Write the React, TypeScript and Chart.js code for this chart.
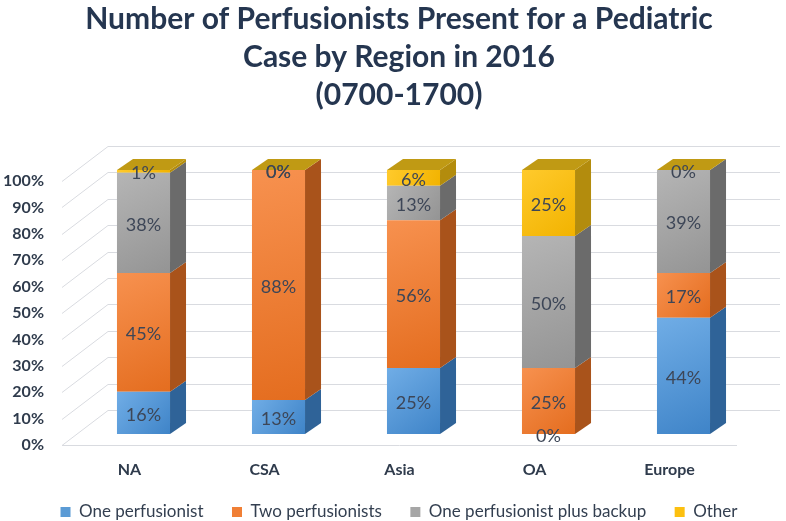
import { useEffect, useRef } from 'react';
import { Chart, registerables } from 'chart.js';

Chart.register(...registerables);

const titleLines = ['Number of Perfusionists Present for a Pediatric', 'Case by Region in 2016', '(0700-1700)'];
const categories = ['NA', 'CSA', 'Asia', 'OA', 'Europe'];
const seriesNames = ['One perfusionist', 'Two perfusionists', 'One perfusionist plus backup', 'Other'];
const onePerfusionist = [16, 13, 25, 0, 44];
const twoPerfusionists = [45, 88, 56, 25, 17];
const onePlusBackup = [38, 0, 13, 50, 39];
const other = [1, 0, 6, 25, 0];
const yTicks = [0, 10, 20, 30, 40, 50, 60, 70, 80, 90, 100];

const frontColors = ['#5b9bd5', '#f07f35', '#a6a6a6', '#fcc010'];
const frontLight = ['#70ade6', '#f7914f', '#b5b5b5', '#ffca2c'];
const frontDark = ['#3f84c8', '#e46d1f', '#949494', '#f2b300'];
const sideColors = ['#2f6398', '#a9531b', '#6b6b6b', '#b38c0d'];
const topColor = '#c09a14';

const DX = 16;
const DY = 11;
const BAR_FRACTION = 0.393;
const FONT = 'Lato, "Open Sans", sans-serif';

const series = [onePerfusionist, twoPerfusionists, onePlusBackup, other];
const totals = categories.map((_, j) => series.reduce((s, arr) => s + arr[j], 0));
const normalized = series.map((arr) => arr.map((v, j) => (v / totals[j]) * 100));

const frontFill = (i: number) => (c: any) => {
  const chart = c.chart;
  const xs = chart.scales?.x;
  const ys = chart.scales?.y;
  const j = c.dataIndex;
  if (!chart.chartArea || !xs || !ys || j === undefined) return frontColors[i];
  let start = 0;
  for (let k = 0; k < i; k++) start += normalized[k][j];
  const end = start + normalized[i][j];
  const yTop = ys.getPixelForValue(end);
  const yBot = ys.getPixelForValue(start);
  const cx = xs.getPixelForValue(j);
  const half = ((xs.right - xs.left) / categories.length) * BAR_FRACTION / 2;
  if (!isFinite(yTop) || !isFinite(cx) || yBot - yTop < 0.5) return frontColors[i];
  const g = chart.ctx.createLinearGradient(cx - half, yTop, cx + half, yBot);
  g.addColorStop(0, frontLight[i]);
  g.addColorStop(1, frontDark[i]);
  return g;
};

const wallPlugin = {
  id: 'walls3d',
  beforeDatasetsDraw(chart: any) {
    const { ctx, chartArea: a, scales } = chart;
    const y = scales.y;
    const fl = a.left - 14;
    const bl = a.left + 32;
    const br = a.right + 29;
    const fr = a.right - 14;
    ctx.save();
    ctx.strokeStyle = '#d9dbe0';
    ctx.lineWidth = 1;
    for (const v of yTicks) {
      const py = y.getPixelForValue(v);
      ctx.beginPath();
      ctx.moveTo(fl, Math.round(py + 11) + 0.5);
      ctx.lineTo(bl, Math.round(py - 24) + 0.5);
      ctx.lineTo(br, Math.round(py - 24) + 0.5);
      ctx.stroke();
    }
    const f0 = Math.round(y.getPixelForValue(0) + 11) + 0.5;
    ctx.beginPath();
    ctx.moveTo(fl, f0);
    ctx.lineTo(fr, f0);
    ctx.stroke();
    ctx.restore();
  },
};

const barsPlugin = {
  id: 'bars3d',
  afterDatasetsDraw(chart: any) {
    const { ctx } = chart;
    const n = chart.data.datasets.length;
    ctx.save();
    for (let i = 0; i < n; i++) {
      const meta = chart.getDatasetMeta(i);
      meta.data.forEach((bar: any) => {
        const { x, y, base, width } = bar.getProps(['x', 'y', 'base', 'width'], true);
        const r = x + width / 2;
        ctx.fillStyle = sideColors[i];
        ctx.beginPath();
        ctx.moveTo(r, y);
        ctx.lineTo(r + DX, y - DY);
        ctx.lineTo(r + DX, base - DY);
        ctx.lineTo(r, base);
        ctx.closePath();
        ctx.fill();
        if (i === n - 1) {
          const l = x - width / 2;
          ctx.fillStyle = topColor;
          ctx.beginPath();
          ctx.moveTo(l, y);
          ctx.lineTo(l + DX, y - DY);
          ctx.lineTo(r + DX, y - DY);
          ctx.lineTo(r, y);
          ctx.closePath();
          ctx.fill();
        }
      });
    }
    ctx.font = `18px ${FONT}`;
    ctx.fillStyle = '#3d4657';
    ctx.textAlign = 'center';
    ctx.textBaseline = 'middle';
    for (let i = 0; i < n; i++) {
      const meta = chart.getDatasetMeta(i);
      meta.data.forEach((bar: any, j: number) => {
        const { x, y, base } = bar.getProps(['x', 'y', 'base'], true);
        ctx.fillText(series[i][j] + '%', x, (y + base) / 2 + 2);
      });
    }
    ctx.restore();
  },
};

export default function App() {
  const ref = useRef<HTMLCanvasElement>(null);
  useEffect(() => {
    const chart = new Chart(ref.current as HTMLCanvasElement, {
      type: 'bar',
      data: {
        labels: categories,
        datasets: seriesNames.map((name, i) => ({
          label: name,
          data: normalized[i],
          backgroundColor: frontFill(i),
          borderWidth: 0,
          categoryPercentage: 1,
          barPercentage: BAR_FRACTION,
        })),
      },
      options: {
        animation: false,
        responsive: true,
        maintainAspectRatio: false,
        layout: { padding: { left: 0, right: -12, top: 0, bottom: -9.5 } },
        scales: {
          x: {
            stacked: true,
            grid: { display: false, drawTicks: false },
            border: { display: false },
            ticks: {
              labelOffset: -14,
              padding: 26,
              color: '#2f3b4c',
              font: { family: FONT, size: 16, weight: 'bold' },
            },
            afterFit: (s: any) => { s.height = 49.5; },
          },
          y: {
            stacked: true,
            min: 0,
            max: 100,
            grid: { display: false, drawTicks: false },
            border: { display: false },
            afterBuildTicks: (s: any) => { s.ticks = yTicks.map((v) => ({ value: v })); },
            ticks: {
              labelOffset: 11,
              padding: 32,
              color: '#2f3b4c',
              font: { family: FONT, size: 16, weight: 'bold' },
              callback: (v: any) => v + '%',
            },
            afterFit: (s: any) => { s.width = 76; },
          },
          yR: {
            type: 'linear',
            position: 'right',
            display: true,
            grid: { display: false, drawTicks: false },
            border: { display: false },
            ticks: { display: false },
            afterFit: (s: any) => { s.width = 47; },
          },
        },
        plugins: {
          title: {
            display: true,
            text: titleLines,
            color: '#253650',
            font: { family: FONT, size: 30, weight: 'bold', lineHeight: 1.27 },
            padding: { top: 0, bottom: 55.7 },
          },
          legend: {
            position: 'bottom',
            labels: {
              boxWidth: 10,
              boxHeight: 10,
              padding: 20,
              color: '#333f50',
              font: { family: FONT, size: 17 },
              generateLabels: (chart: any) => {
                const items = Chart.defaults.plugins.legend.labels.generateLabels(chart);
                return items.map((it: any, k: number) => ({
                  ...it,
                  fillStyle: frontColors[k],
                  text: k < items.length - 1 ? it.text + '\u2002' : it.text,
                }));
              },
            },
          },
          tooltip: { enabled: false },
        },
      },
      plugins: [wallPlugin, barsPlugin],
    } as any);
    return () => chart.destroy();
  }, []);
  return (
    <div style={{ position: 'fixed', left: 0, top: 0, width: 786, height: 521, background: '#fff' }}>
      <canvas ref={ref} />
    </div>
  );
}
